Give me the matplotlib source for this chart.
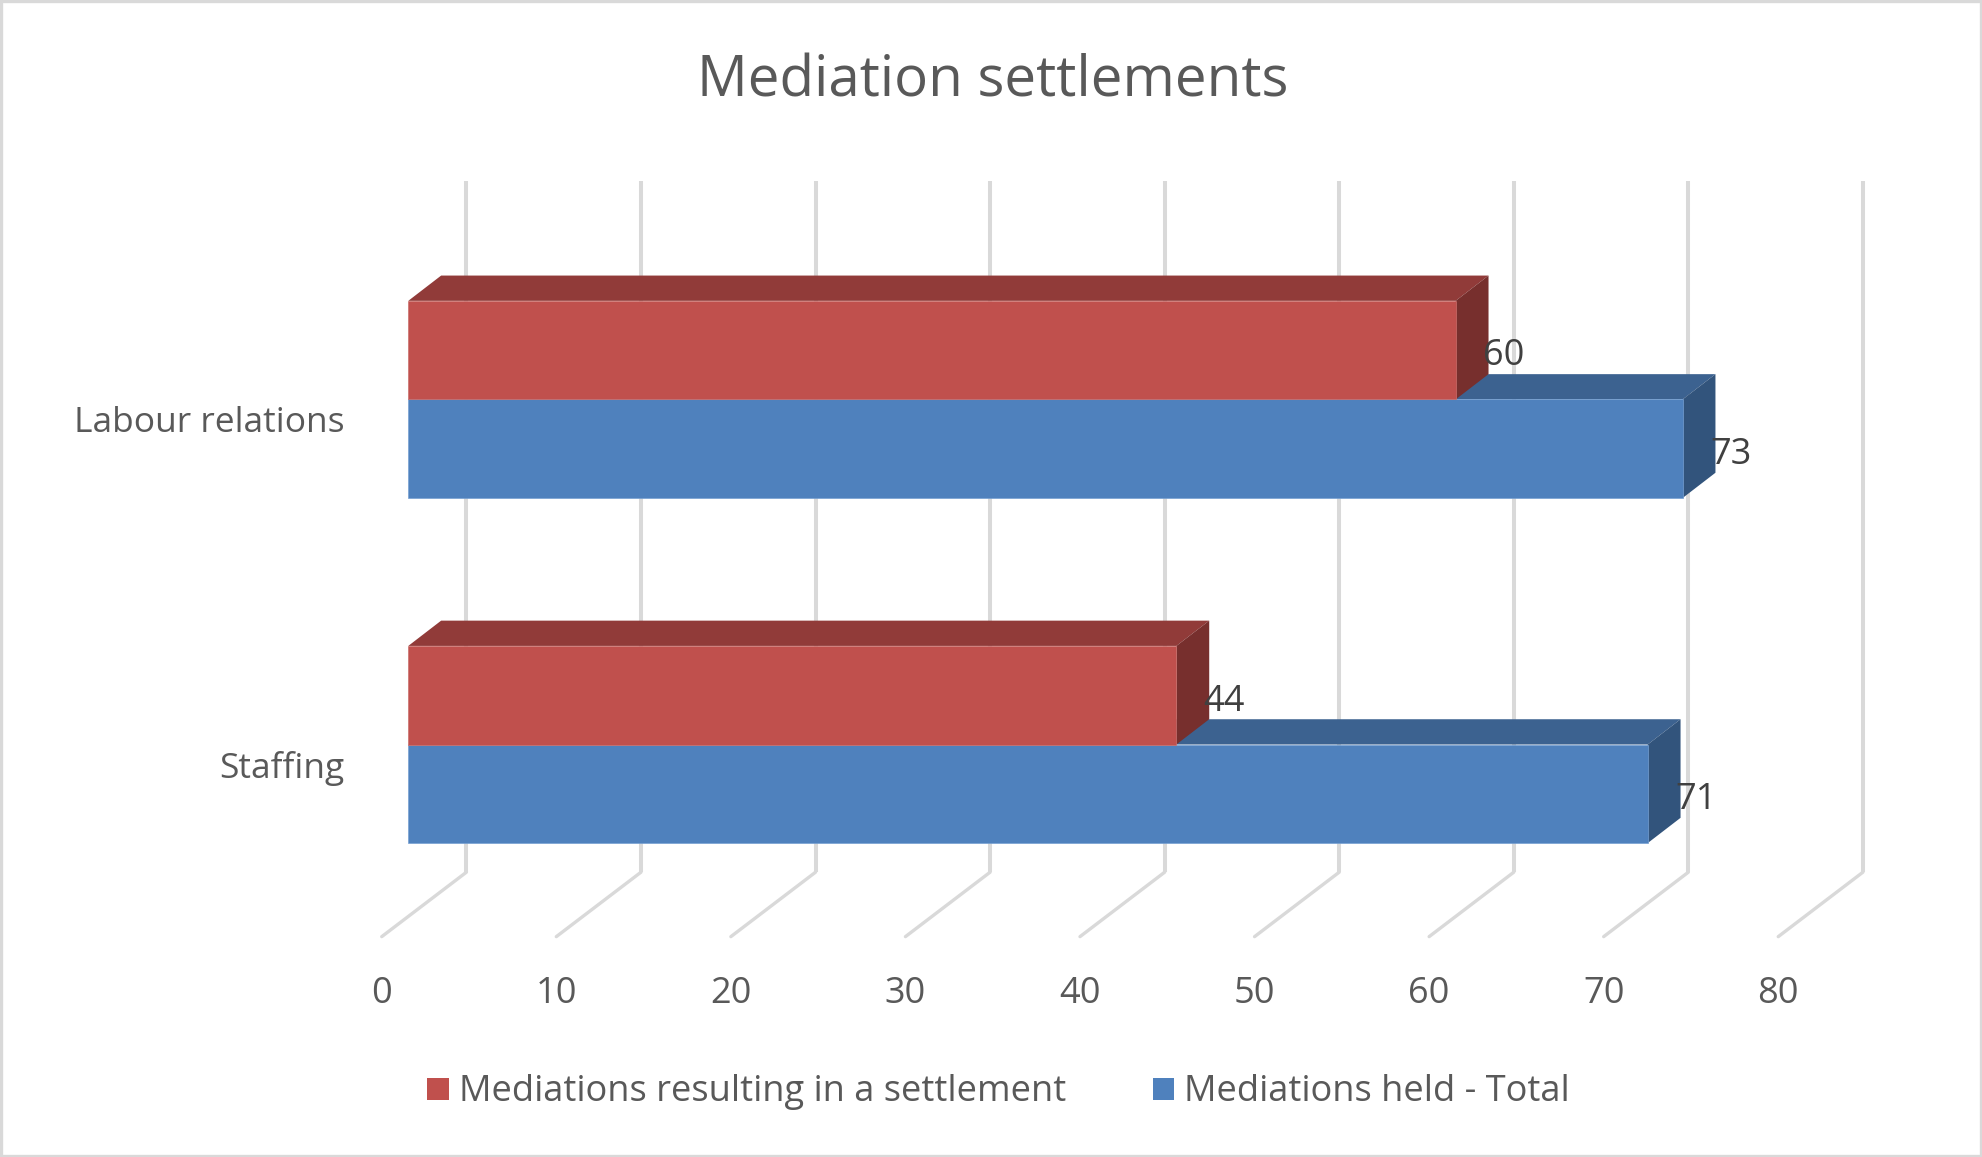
import matplotlib
matplotlib.use("Agg")
import matplotlib.pyplot as plt
from matplotlib.patches import Polygon, Rectangle

categories = ["Staffing", "Labour relations"]
series_names = ["Mediations resulting in a settlement", "Mediations held - Total"]
settled = [44, 60]
held = [71, 73]
ticks = [0, 10, 20, 30, 40, 50, 60, 70, 80]

W, H = 1982, 1157
S = 1982 / 1568
plt.rcParams['font.family'] = ['Open Sans', 'DejaVu Sans']
fig = plt.figure(figsize=(W / 100, H / 100), dpi=100, facecolor='white')

unit = 13.81 * S
x0_px = 323 * S
ax = fig.add_axes([0, 0, 1, 1])
ax.set_xlim(-x0_px / unit, (W - x0_px) / unit)
ax.set_ylim(H / S, 0)
ax.axis('off')

dx = 26 * S / unit   # depth in x
dy = 20              # depth in y
grid = '#d9d9d9'
txt = '#595959'

fig.add_artist(Rectangle((0.0005, 0.001), 0.999, 0.998, transform=fig.transFigure,
                         fill=False, edgecolor='#d9d9d9', linewidth=2.4))

ax.text((785 - 323) / 13.81, 65, "Mediation settlements", ha='center', va='center',
        fontsize=40.7, color=txt)

back = 46 / 13.81
front = -21 / 13.81
for t in ticks:
    ax.plot([t + back, t + back], [143, 690], color=grid, lw=2.9, solid_capstyle='butt', zorder=1)
    ax.plot([t + front, t + back], [741, 690], color=grid, lw=2.4, solid_capstyle='round', zorder=1)
    ax.text(t + front, 786, str(t), ha='center', va='center', fontsize=26, color=txt)

colors = {
    0: ('#c0504d', '#913b39', '#772f2d', '#cc6f6c'),
    1: ('#4f81bd', '#3c6290', '#32547c', '#76a0d2'),
}
tops = {"Labour relations": 238, "Staffing": 511}
bar_h = 78

def bar3d(v, top, c):
    front_c, top_c, side_c, edge_c = c
    ax.add_patch(Polygon([(0, top), (dx, top - dy), (v + dx, top - dy), (v, top)],
                         facecolor=top_c, edgecolor='none', zorder=3))
    ax.add_patch(Polygon([(v, top), (v + dx, top - dy), (v + dx, top + bar_h - dy), (v, top + bar_h)],
                         facecolor=side_c, edgecolor='none', zorder=3))
    ax.add_patch(Rectangle((0, top), v, bar_h, facecolor=front_c, edgecolor=edge_c,
                           linewidth=0.5, zorder=4))

for i, cat in enumerate(categories):
    top = tops[cat]
    bar3d(held[i], top + bar_h, colors[1])
    bar3d(settled[i], top, colors[0])
    ax.text(settled[i] + dx + 0.87, top + 44, str(settled[i]), ha='center', va='center',
            fontsize=26, color='#404040', zorder=6)
    ax.text(held[i] + dx + 0.87, top + bar_h + 44, str(held[i]), ha='center', va='center',
            fontsize=26, color='#404040', zorder=6)
    ax.text(-50.5 / 13.81, top + 97, cat, ha='right', va='center', fontsize=25.5, color=txt)

for name, c, sx, tx in [(series_names[0], colors[0][0], 338, 363),
                        (series_names[1], colors[1][0], 912, 937)]:
    ax.add_patch(Rectangle(((sx - 323) / 13.81, 853), 17 / 13.81, 17, facecolor=c, edgecolor='none'))
    ax.text((tx - 323) / 13.81, 864, name, ha='left', va='center', fontsize=26.1, color=txt)

fig.savefig('out.png', dpi=100, facecolor='white')
